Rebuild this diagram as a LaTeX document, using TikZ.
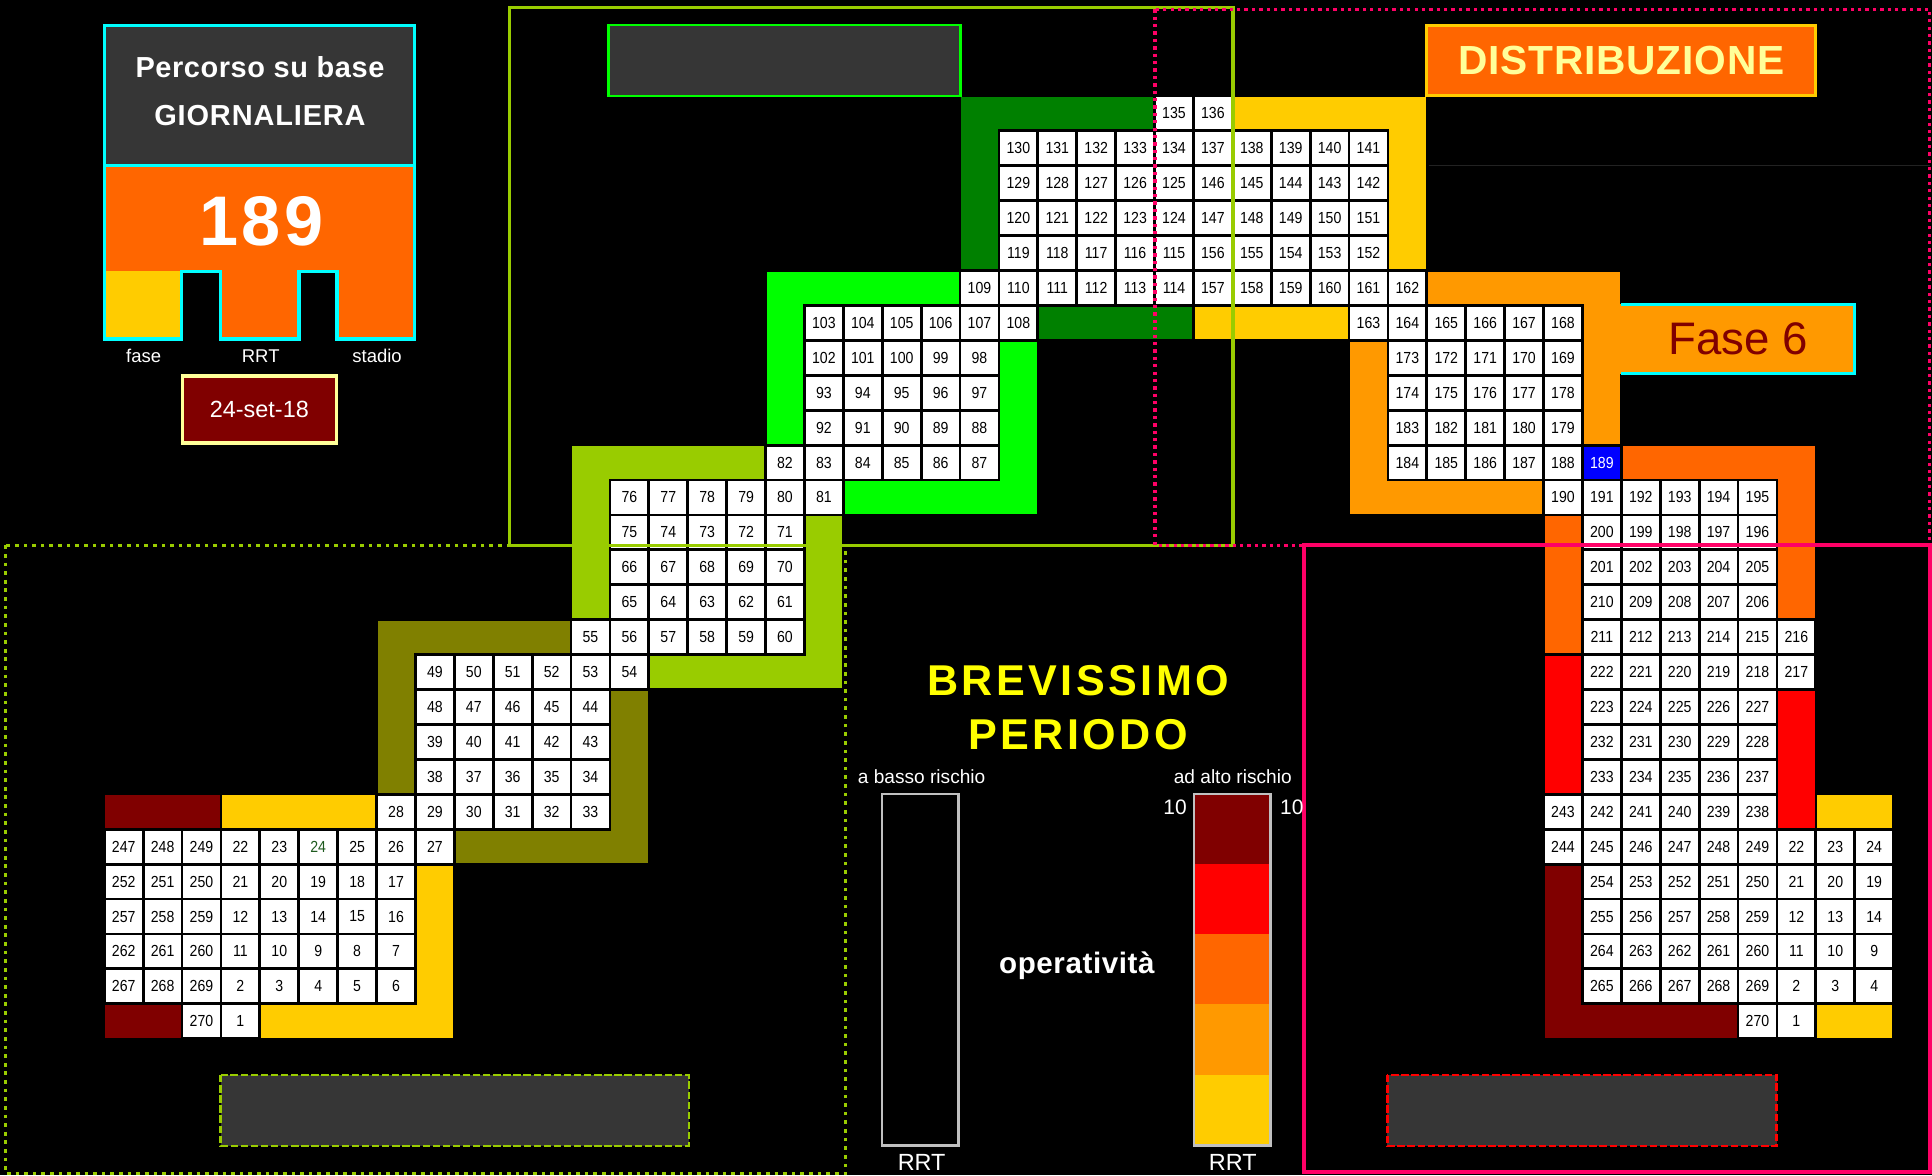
\documentclass[tikz,border=0pt]{standalone}
\usepackage{fontspec}
\setmainfont{Liberation Sans}
\newfontfamily\cellfont[FakeStretch=0.88]{Liberation Sans}
\newfontfamily\lsA[LetterSpace=2]{Liberation Sans}
\newfontfamily\lsB[LetterSpace=3]{Liberation Sans}
\newfontfamily\lsC[LetterSpace=5]{Liberation Sans}
\newfontfamily\lsD[LetterSpace=8]{Liberation Sans}
\definecolor{bgGrey}{HTML}{363636}
\definecolor{cyanB}{HTML}{00FFFF}
\definecolor{dOrange}{HTML}{FF6600}
\definecolor{yel}{HTML}{FFCC00}
\definecolor{orng}{HTML}{FF9900}
\definecolor{maroon}{HTML}{800000}
\definecolor{lightYel}{HTML}{FFFF99}
\definecolor{lime}{HTML}{99CC00}
\definecolor{olive}{HTML}{808000}
\definecolor{brGreen}{HTML}{00FF00}
\definecolor{dkGreen}{HTML}{008000}
\definecolor{crimson}{HTML}{FF0066}
\definecolor{pureRed}{HTML}{FF0000}
\definecolor{pureBlue}{HTML}{0000FF}
\definecolor{lgrey}{HTML}{C0C0C0}
\definecolor{brightYel}{HTML}{FFFF00}
\definecolor{gTwentyFour}{RGB}{30,90,30}
\definecolor{faint}{RGB}{34,34,34}
\newcommand\cellat[4][]{\node[cellbox,#1] (c#2x#3) at ({100.4+31.57*#2},{92+28.34*#3}) {#4};}
\newcommand\cellrow[3]{\foreach \v [count=\k from 0] in {#3} {\pgfmathtruncatemacro\cc{#2+\k}\cellat{\cc}{#1}{\v}}}
\newcommand\band[5]{\fill[#5] ({100.4+31.57*(#1)-14.8},{92+28.34*(#2)-13.2}) rectangle ({100.4+31.57*(#3)+14.8},{92+28.34*(#4)+13.2});}
\begin{document}
\begin{tikzpicture}[x=1pt,y=-1pt,
  cellbox/.style={draw=black,fill=white,line width=2.3pt,minimum width=31.57pt,minimum height=28.34pt,inner sep=0pt,text=black,font={\cellfont\fontsize{13pt}{13pt}\selectfont}},
  lbl/.style={text=white,inner sep=0pt},
  greybox/.style={fill=bgGrey},
]
\fill[black] (0,0) rectangle (1568,954);
\useasboundingbox (0,0) rectangle (1568,954);

% ---------- bands ----------
% lower-left board
\band{0}{20}{2}{20}{maroon}
\band{0}{26}{1}{26}{maroon}
\band{3}{20}{6}{20}{yel}
\band{8}{22}{8}{26}{yel}
\band{4}{26}{8}{26}{yel}
% olive
\band{7}{15}{7}{19}{olive}
\band{7}{15}{11}{15}{olive}
\band{13}{17}{13}{21}{olive}
\band{9}{21}{13}{21}{olive}
% lime
\band{12}{10}{12}{14}{lime}
\band{12}{10}{16}{10}{lime}
\band{18}{12}{18}{16}{lime}
\band{14}{16}{18}{16}{lime}
% bright green
\band{17}{5}{17}{9}{brGreen}
\band{17}{5}{21}{5}{brGreen}
\band{23}{7}{23}{11}{brGreen}
\band{19}{11}{23}{11}{brGreen}
% dark green
\band{22}{0}{22}{4}{dkGreen}
\band{22}{0}{26}{0}{dkGreen}
\band{24}{6}{27}{6}{dkGreen}
% yellow
\band{29}{0}{33}{0}{yel}
\band{33}{0}{33}{4}{yel}
\band{28}{6}{31}{6}{yel}
% orange
\band{34}{5}{38}{5}{orng}
\band{38}{5}{38}{9}{orng}
\band{32}{7}{32}{11}{orng}
\band{32}{11}{36}{11}{orng}
% dark orange
\band{39}{10}{43}{10}{dOrange}
\band{43}{10}{43}{14}{dOrange}
\band{37}{12}{37}{15}{dOrange}
% red
\band{37}{16}{37}{19}{pureRed}
\band{43}{17}{43}{20}{pureRed}
% maroon right board
\band{37}{22}{37}{26}{maroon}
\band{37}{26}{41}{26}{maroon}
\band{44}{20}{45}{20}{yel}
\band{44}{26}{45}{26}{yel}

% ---------- cells ----------
\cellrow{20}{7}{28,29,30,31,32,33}
\cellrow{21}{0}{247,248,249,22,23}
\cellat[text=gTwentyFour]{5}{21}{24}
\cellrow{21}{6}{25,26,27}
\cellrow{22}{0}{252,251,250,21,20,19,18,17}
\cellrow{23}{0}{257,258,259,12,13,14,15,16}
\cellrow{24}{0}{262,261,260,11,10,9,8,7}
\cellrow{25}{0}{267,268,269,2,3,4,5,6}
\cellrow{26}{2}{270,1}
\cellrow{19}{8}{38,37,36,35,34}
\cellrow{18}{8}{39,40,41,42,43}
\cellrow{17}{8}{48,47,46,45,44}
\cellrow{16}{8}{49,50,51,52,53,54}
\cellrow{15}{12}{55,56,57,58,59,60}
\cellrow{14}{13}{65,64,63,62,61}
\cellrow{13}{13}{66,67,68,69,70}
\cellrow{12}{13}{75,74,73,72,71}
\cellrow{11}{13}{76,77,78,79,80,81}
\cellrow{10}{17}{82,83,84,85,86,87}
\cellrow{9}{18}{92,91,90,89,88}
\cellrow{8}{18}{93,94,95,96,97}
\cellrow{7}{18}{102,101,100,99,98}
\cellrow{6}{18}{103,104,105,106,107,108}
\cellrow{5}{22}{109,110,111,112,113,114,157,158,159,160,161,162}
\cellrow{4}{23}{119,118,117,116,115,156,155,154,153,152}
\cellrow{3}{23}{120,121,122,123,124,147,148,149,150,151}
\cellrow{2}{23}{129,128,127,126,125,146,145,144,143,142}
\cellrow{1}{23}{130,131,132,133,134,137,138,139,140,141}
\cellrow{0}{27}{135,136}
\cellrow{6}{32}{163,164,165,166,167,168}
\cellrow{7}{33}{173,172,171,170,169}
\cellrow{8}{33}{174,175,176,177,178}
\cellrow{9}{33}{183,182,181,180,179}
\cellrow{10}{33}{184,185,186,187,188}
\cellat[fill=pureBlue,text=white]{38}{10}{189}
\cellrow{11}{37}{190,191,192,193,194,195}
\cellrow{12}{38}{200,199,198,197,196}
\cellrow{13}{38}{201,202,203,204,205}
\cellrow{14}{38}{210,209,208,207,206}
\cellrow{15}{38}{211,212,213,214,215,216}
\cellrow{16}{38}{222,221,220,219,218,217}
\cellrow{17}{38}{223,224,225,226,227}
\cellrow{18}{38}{232,231,230,229,228}
\cellrow{19}{38}{233,234,235,236,237}
\cellrow{20}{37}{243,242,241,240,239,238}
\cellrow{21}{37}{244,245,246,247,248,249,22,23,24}
\cellrow{22}{38}{254,253,252,251,250,21,20,19}
\cellrow{23}{38}{255,256,257,258,259,12,13,14}
\cellrow{24}{38}{264,263,262,261,260,11,10,9}
\cellrow{25}{38}{265,266,267,268,269,2,3,4}
\cellrow{26}{42}{270,1}

% ---------- top-left panel ----------
\fill[bgGrey] (85,20.8) rectangle (336.5,134.3);
\fill[dOrange] (85,134.3) -- (336.5,134.3) -- (336.5,275) -- (273.5,275) -- (273.5,220.2) -- (242.7,220.2) -- (242.7,275) -- (178.9,275) -- (178.9,220.2) -- (147.2,220.2) -- (147.2,275) -- (85,275) -- cycle;
\fill[yel] (85,220.2) rectangle (147.2,275);
\draw[cyanB,line width=2.7pt] (85,20.8) -- (336.5,20.8) -- (336.5,275) -- (273.5,275) -- (273.5,220.2) -- (242.7,220.2) -- (242.7,275) -- (178.9,275) -- (178.9,220.2) -- (147.2,220.2) -- (147.2,275) -- (85,275) -- cycle;
\draw[cyanB,line width=2.7pt] (85,134.3) -- (336.5,134.3);
\node[lbl,font={\lsA\bfseries\fontsize{23.5pt}{24pt}\selectfont}] (tperc) at (211,54.6) {Percorso su base};
\node[lbl,font={\lsB\bfseries\fontsize{23.5pt}{24pt}\selectfont}] (tgiorn) at (211,94) {GIORNALIERA};
\node[lbl,font={\lsC\bfseries\fontsize{57pt}{58pt}\selectfont}] (tnum) at (212,179.5) {189};
\node[lbl,font={\fontsize{15pt}{16pt}\selectfont}] (tfase) at (116.6,289) {fase};
\node[lbl,font={\fontsize{15pt}{16pt}\selectfont}] (trrt) at (211.6,289) {RRT};
\node[lbl,font={\fontsize{15pt}{16pt}\selectfont}] (tstadio) at (306,289) {stadio};
\node[draw=lightYel,fill=maroon,line width=2.7pt,minimum width=125pt,minimum height=54.5pt,inner sep=0pt,text=white,font={\fontsize{19pt}{20pt}\selectfont}] (tdate) at (210.5,332.3) {24-set-18};

% ---------- frames ----------
\draw[lime,line width=2.6pt,dash pattern=on 3pt off 4pt] (4.5,442.6) rectangle (686.4,952.5);
\draw[lime,line width=2.8pt] (413.5,6) rectangle (1000.5,442.6);
\draw[crimson,line width=2.7pt,dash pattern=on 2.7pt off 3.3pt] (937.5,7.5) rectangle (1566,442.6);
\draw[crimson,line width=3.2pt] (1058.5,442.6) rectangle (1566,951);
\draw[faint,line width=0.8pt] (1160,134.6) -- (1566,134.6);

% grey placeholder boxes
\draw[greybox,draw=brGreen,line width=2.2pt] (494,20.3) rectangle (779.3,78);
\draw[greybox,draw=lime,line width=1.8pt,dash pattern=on 6pt off 2.2pt] (179,872.5) rectangle (559,930);
\draw[greybox,draw=pureRed,line width=2.2pt,dash pattern=on 6pt off 2.2pt] (1126,872.5) rectangle (1442,930);

% ---------- DISTRIBUZIONE / Fase 6 ----------
\node[draw=yel,fill=dOrange,line width=2.2pt,minimum width=315.7pt,minimum height=56.9pt,inner sep=0pt,text=lightYel,font={\lsA\bfseries\fontsize{33pt}{34pt}\selectfont}] (tdist) at (1315.85,48.95) {DISTRIBUZIONE};
\fill[orng] (1314,246.8) rectangle (1505,303.3);
\draw[cyanB,line width=2.4pt] (1315.6,246.8) -- (1505,246.8) -- (1505,303.3) -- (1315.6,303.3);
\node[inner sep=0pt,text=maroon,font={\fontsize{37pt}{38pt}\selectfont}] (tfase6) at (1410.6,275) {Fase 6};

% ---------- legend ----------
\node[lbl,text=brightYel,font={\lsD\bfseries\fontsize{35pt}{36pt}\selectfont}] (tbrev) at (875,552) {BREVISSIMO};
\node[lbl,text=brightYel,font={\lsD\bfseries\fontsize{35pt}{36pt}\selectfont}] (tper) at (875,596) {PERIODO};
\node[lbl,font={\fontsize{15.5pt}{16pt}\selectfont}] (tbasso) at (748,630.4) {a basso rischio};
\node[lbl,font={\fontsize{15.5pt}{16pt}\selectfont}] (talto) at (1000.5,630.4) {ad alto rischio};
\draw[lgrey,line width=2.2pt] (715.9,644.3) rectangle (778.1,929.6);
\fill[maroon] (969,644.3) rectangle (1031.2,701.3);
\fill[pureRed] (969,701.3) rectangle (1031.2,758);
\fill[dOrange] (969,758) rectangle (1031.2,815);
\fill[orng] (969,815) rectangle (1031.2,872.5);
\fill[yel] (969,872.5) rectangle (1031.2,929.6);
\draw[lgrey,line width=2.2pt] (969,644.3) rectangle (1031.2,929.6);
\node[lbl,font={\fontsize{17pt}{18pt}\selectfont}] (tdieciL) at (953.7,655.5) {10};
\node[lbl,font={\fontsize{17pt}{18pt}\selectfont}] (tdieciR) at (1048.4,655.5) {10};
\node[lbl,font={\fontsize{19pt}{20pt}\selectfont}] (trrtL) at (748,943.7) {RRT};
\node[lbl,font={\fontsize{19pt}{20pt}\selectfont}] (trrtR) at (1000.5,943.7) {RRT};
\node[lbl,font={\lsA\bfseries\fontsize{24pt}{25pt}\selectfont}] (toper) at (874,784) {operatività};
\end{tikzpicture}
\end{document}
